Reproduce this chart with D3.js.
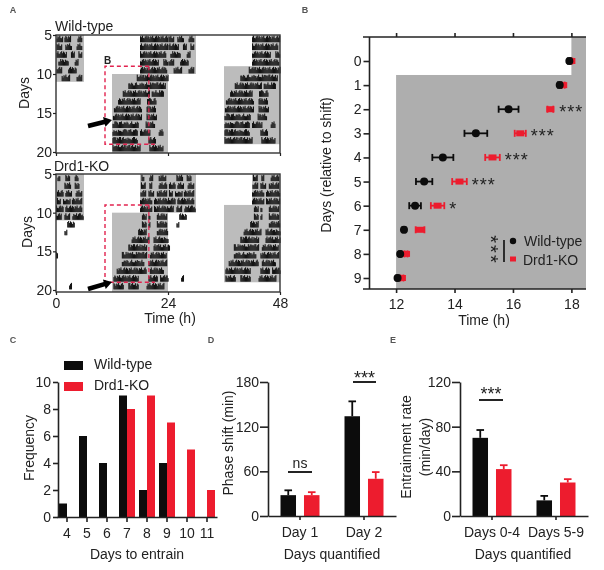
<!DOCTYPE html>
<html>
<head>
<meta charset="utf-8">
<script src="https://cdn.jsdelivr.net/npm/d3@7"></script>
<style>
html,body{margin:0;padding:0;background:#fff;}
svg{display:block;filter:blur(0.4px);}
text{font-family:"Liberation Sans",Arial,sans-serif;fill:#222;}
</style>
</head>
<body>
<svg id="chart" width="604" height="570"></svg>
<script>
// ---------- Panel A: activity bouts per day [start hour, end hour] ----------
const actoDays = [5,6,7,8,9,10,11,12,13,14,15,16,17,18,19];
const wtBouts = [
  [[0.1,1.5],[1.8,3.2],[4.6,5.5],[18,24]],
  [[0.1,1.2],[2,3.2],[4.4,5.5],[18,23.8]],
  [[0.1,2.3],[3.2,4],[4.8,5.5],[18,23.5]],
  [[0.5,2.6],[4,4.8],[18,22],[23,24]],
  [[0.1,1.2],[2.6,4.4],[18,23.7]],
  [[1.2,3],[4.4,5.5],[17.3,24]],
  [[15.5,23.5]],
  [[14.3,20],[20.5,23]],
  [[13.3,18],[19.5,21.5]],
  [[12.4,18.3],[19.4,21.2]],
  [[12.2,18.3],[19.4,21.5]],
  [[12.1,17.7],[19.2,21.2]],
  [[12.1,17.3],[18,20.2],[22,23]],
  [[12.1,17.3],[19.8,21.3]],
  [[12.1,18],[20,23]]
];
const koBouts = [
  [[0.3,0.8],[2,3],[4,4.8],[18.3,18.8],[20,20.6],[22,23.5]],
  [[1.8,3.2],[4,5],[18.2,19],[20,20.5],[22,23.7]],
  [[0.2,1.5],[2,3.4],[4.2,5.6],[18.1,19.2],[19.8,21],[21.6,23.8]],
  [[0.2,1],[1.5,3],[3.4,5.5],[18,20.5],[21,23.8]],
  [[0,1.5],[2,5.6],[18,20.5],[21,24]],
  [[0,1.2],[1.8,3],[3.5,5.8],[18.4,19.4],[19.8,20.1],[21.6,23.7]],
  [[2.4,4],[18.4,19.4],[19.8,20.1],[21.6,23.7]],
  [[1.8,2.3],[17.6,19.4],[21.6,24]],
  [[16.2,19.8],[20.9,24]],
  [[15.5,19.4],[20.9,24]],
  [[0,0.3],[14.1,19.4],[20.1,23.7]],
  [[14.1,18.9],[19.8,23.7]],
  [[13,19.4],[20.1,23]],
  [[12.3,17.6],[19.8,21.6],[22.3,24]],
  [[2.8,3.2],[12.3,14.4],[15.5,17.6],[19.4,23]]
];
const darkDays  = [[5,10],[5,9],[10,19]];
const darkHours = [[0,6],[18,24],[12,24]];
const spikeHeights = [0.6,0.85,1,0.7,0.95,0.8,0.55,0.9,0.75,1,0.65];
const actoTicksY = [5,10,15,20];
const actoTicksX = [0,24,48];
const boxHours = [10.5,19.9];
const boxDays = [9,19];

// ---------- Panel B ----------
const relDays = [0,1,2,3,4,5,6,7,8,9];
const wtTime = [17.93,17.6,15.85,14.73,13.6,12.96,12.65,12.27,12.14,12.05];
const wtErr  = [0.05,0.06,0.34,0.39,0.36,0.28,0.2,0.05,0.04,0.04];
const koTime = [18.0,17.72,17.28,16.25,15.3,14.17,13.42,12.82,12.34,12.2];
const koErr  = [0.03,0.05,0.1,0.19,0.25,0.25,0.23,0.15,0.05,0.05];
const sigB   = ["","","***","***","***","***","*","","",""];
const timeTicks = [12,14,16,18];

// ---------- Panel C ----------
const entrainDays = [4,5,6,7,8,9,10,11];
const wtFreq = [1,6,4,9,2,4,0,0];
const koFreq = [0,0,0,8,9,7,5,2];

// ---------- Panel D ----------
const shiftGroups = ["Day 1","Day 2"];
const wtShift = [28,134];  const wtShiftErr = [6.5,20];
const koShift = [28,50];   const koShiftErr = [4,9];

// ---------- Panel E ----------
const rateGroups = ["Days 0-4","Days 5-9"];
const wtRate = [70,14];  const wtRateErr = [7,4];
const koRate = [42,30];  const koRateErr = [3.5,3];

const BLACK="#0c0c0c", RED="#ed1c2e", GREY="#bcbcbc", GREYB="#aeaeae", INK="#222";
const svg = d3.select("#chart");

function styleAxis(g,w){
  g.selectAll(".domain,.tick line").attr("stroke",INK).attr("stroke-width",w||1.6);
  g.selectAll("text").attr("font-size",14).attr("font-family","'Liberation Sans',Arial,sans-serif").attr("fill",INK);
  return g;
}
function label(x,y,t,opt){
  opt=opt||{};
  const s=svg.append("text").text(t).attr("font-size",opt.size||14)
    .attr("text-anchor",opt.anchor||"middle");
  if(opt.rot) s.attr("transform",`translate(${x},${y}) rotate(${opt.rot})`);
  else s.attr("x",x).attr("y",y);
  if(opt.weight) s.attr("font-weight",opt.weight);
  if(opt.fill) s.style("fill",opt.fill);
  if(opt.spacing) s.attr("letter-spacing",opt.spacing);
  return s;
}

// ---------- actogram ----------
function actogram(bouts,top,y5,y20,bottom,showTimeLabels){
  const x=d3.scaleLinear().domain([0,48]).range([56,280]);
  const y=d3.scaleLinear().domain([5,20]).range([y5,y20]);
  const rowH=y(6)-y(5);
  const g=svg.append("g");
  darkHours.forEach((hrs,i)=>{
    const [d0,d1]=darkDays[i];
    g.append("rect").attr("x",x(hrs[0])).attr("width",x(hrs[1])-x(hrs[0]))
      .attr("y",y(d0)).attr("height",Math.max(y(d1+1),bottom*(d1===19?1:0))-y(d0)).attr("fill",GREY);
    const d0b=Math.max(d0-1,5);
    g.append("rect").attr("x",x(hrs[0]+24)).attr("width",x(hrs[1])-x(hrs[0]))
      .attr("y",y(d0b)).attr("height",y(d1)-y(d0b)).attr("fill",GREY);
  });
  const bin=0.2;
  const spikes=[];
  actoDays.forEach((d,i)=>{
    bouts[i].forEach(b=>{
      d3.range(b[0],b[1],bin).forEach(h=>{
        const k=Math.round(h/bin)+d;
        const f=spikeHeights[k%spikeHeights.length];
        spikes.push({h,row:d,f});
        if(d>5) spikes.push({h:h+24,row:d-1,f});
      });
    });
  });
  g.selectAll("rect.s").data(spikes).join("rect").attr("class","s")
    .attr("x",s=>x(s.h)).attr("width",x(bin)-x(0)+0.15)
    .attr("y",s=>y(s.row+1)-0.6-(rowH-1.2)*s.f).attr("height",s=>(rowH-1.2)*s.f)
    .attr("fill","#141414");
  // frame
  svg.append("rect").attr("x",x(0)).attr("y",top).attr("width",x(48)-x(0)).attr("height",bottom-top)
    .attr("fill","none").attr("stroke","#333").attr("stroke-width",1.4);
  // axes
  styleAxis(svg.append("g").attr("transform",`translate(${x(0)},0)`)
    .call(d3.axisLeft(y).tickValues(actoTicksY).tickSize(3).tickPadding(1).tickSizeOuter(0)),1.2)
    .call(a=>a.select(".domain").remove());
  const xAxis=d3.axisBottom(x).tickValues(actoTicksX).tickSize(3).tickPadding(3).tickSizeOuter(0);
  if(!showTimeLabels) xAxis.tickFormat("");
  styleAxis(svg.append("g").attr("transform",`translate(0,${bottom})`).call(xAxis),1.2)
    .call(a=>a.select(".domain").remove());
  // dashed box
  const bx0=x(boxHours[0]),bx1=x(boxHours[1]),by0=y(boxDays[0]),by1=y(boxDays[1]);
  svg.append("path").attr("d",d3.line()([[bx1,by0],[bx0,by0],[bx0,by1],[bx1+6,by1]]))
    .attr("fill","none").attr("stroke","#e2234f").attr("stroke-width",1.4).attr("stroke-dasharray","4,3");
  svg.append("path").attr("d",d3.line()([[bx1,by0],[bx1,by1]]))
    .attr("fill","none").attr("stroke","#e2234f").attr("stroke-width",1.2).attr("stroke-dasharray","4,3");
  return {x,y};
}
function arrow(x0,y0,x1,y1){
  svg.append("line").attr("x1",x0).attr("y1",y0).attr("x2",x1-5).attr("y2",y1+1.3)
    .attr("stroke","#000").attr("stroke-width",4.5);
  const a=Math.atan2(y1-y0,x1-x0);
  const p=[[x1,y1],[x1-8*Math.cos(a)+5*Math.sin(a),y1-8*Math.sin(a)-5*Math.cos(a)],
           [x1-8*Math.cos(a)-5*Math.sin(a),y1-8*Math.sin(a)+5*Math.cos(a)]];
  svg.append("polygon").attr("points",p.join(" ")).attr("fill","#000");
}
actogram(wtBouts,35,35,152,153,false);
actogram(koBouts,174,174,290,292,true);
arrow(88,126,112,120);
arrow(88,289,112,282);
label(55,31,"Wild-type",{anchor:"start"});
label(54,171,"Drd1-KO",{anchor:"start"});
label(104,64,"B",{anchor:"start",size:10,weight:"bold"});
label(29,93,"Days",{rot:-90});
label(32,232,"Days",{rot:-90});
label(170,323,"Time (h)");

// ---------- Panel B ----------
(function(){
  const x=d3.scaleLinear().domain([11.09,18.5]).range([369.5,586]);
  const y=d3.scaleLinear().domain([0,9]).range([61,278]);
  const yTop=37, yBot=289;
  svg.append("rect").attr("x",x(12)).attr("y",y(0.58)).attr("width",x(18.5)-x(12))
    .attr("height",yBot-y(0.58)).attr("fill",GREYB);
  svg.append("rect").attr("x",x(18)).attr("y",yTop).attr("width",x(18.5)-x(18))
    .attr("height",y(0.58)-yTop).attr("fill",GREYB);
  function series(vals,errs,color,isDot){
    const g=svg.append("g");
    relDays.forEach((d,i)=>{
      const cy=y(d),a=x(vals[i]-errs[i]),b=x(vals[i]+errs[i]);
      g.append("line").attr("x1",a).attr("x2",b).attr("y1",cy).attr("y2",cy).attr("stroke",color).attr("stroke-width",1.8);
      [a,b].forEach(c=>g.append("line").attr("x1",c).attr("x2",c).attr("y1",cy-3.5).attr("y2",cy+3.5).attr("stroke",color).attr("stroke-width",1.8));
      if(isDot) g.append("circle").attr("cx",x(vals[i])).attr("cy",cy).attr("r",4).attr("fill",color);
      else g.append("rect").attr("x",x(vals[i])-4).attr("y",cy-3).attr("width",8).attr("height",6).attr("fill",color);
    });
  }
  series(koTime,koErr,RED,false);
  series(wtTime,wtErr,BLACK,true);
  relDays.forEach((d,i)=>{
    if(!sigB[i]) return;
    label(x(koTime[i]+koErr[i])+(i===2?6:5),y(d)+9,sigB[i],{anchor:"start",size:18,spacing:1});
  });
  styleAxis(svg.append("g").attr("transform",`translate(${x(11.09)},0)`)
    .call(d3.axisLeft(y).tickValues(relDays).tickSize(6).tickPadding(2).tickSizeOuter(0)))
    .call(a=>a.select(".domain").attr("d",`M0,${yTop}V${yBot}`));
  styleAxis(svg.append("g").attr("transform",`translate(0,${yBot})`)
    .call(d3.axisBottom(x).tickValues(timeTicks).tickSize(4).tickPadding(6).tickSizeOuter(0)))
    .call(a=>a.select(".domain").attr("d",`M363,0H586`));
  const topAxis=svg.append("g").attr("transform",`translate(0,${yTop})`)
    .call(d3.axisTop(x).tickValues(timeTicks).tickSize(4).tickFormat("").tickSizeOuter(0));
  styleAxis(topAxis).call(a=>a.select(".domain").attr("d",`M363,0H586`));
  label(331,165,"Days (relative to shift)",{rot:-90});
  label(484,325,"Time (h)");
  // legend
  svg.append("line").attr("x1",504).attr("x2",504).attr("y1",240).attr("y2",262).attr("stroke",BLACK).attr("stroke-width",1.6);
  label(484,250,"***",{size:20,rot:90,spacing:2});
  svg.append("circle").attr("cx",513).attr("cy",241).attr("r",3.2).attr("fill",BLACK);
  svg.append("rect").attr("x",510).attr("y",256.5).attr("width",6).attr("height",5).attr("fill",RED);
  label(524,246,"Wild-type",{anchor:"start"});
  label(523,265,"Drd1-KO",{anchor:"start"});
})();

// ---------- Panel C ----------
(function(){
  const x=d3.scaleBand().domain(entrainDays).range([57,217]);
  const y=d3.scaleLinear().domain([0,10]).range([517,382]);
  entrainDays.forEach((d,i)=>{
    const c=x(d)+x.bandwidth()/2;
    svg.append("rect").attr("x",c-8).attr("width",8).attr("y",y(wtFreq[i])).attr("height",y(0)-y(wtFreq[i])).attr("fill",BLACK);
    svg.append("rect").attr("x",c).attr("width",8).attr("y",y(koFreq[i])).attr("height",y(0)-y(koFreq[i])).attr("fill",RED);
  });
  styleAxis(svg.append("g").attr("transform",`translate(58,0)`)
    .call(d3.axisLeft(y).tickValues([0,2,4,6,8,10]).tickSize(5).tickPadding(2).tickSizeOuter(0)));
  styleAxis(svg.append("g").attr("transform",`translate(0,517)`)
    .call(d3.axisBottom(x).tickSize(5).tickPadding(6).tickSizeOuter(0)));
  svg.append("rect").attr("x",64).attr("y",361).attr("width",19).attr("height",9).attr("fill",BLACK);
  svg.append("rect").attr("x",64).attr("y",382).attr("width",19).attr("height",9).attr("fill",RED);
  label(94,369,"Wild-type",{anchor:"start"});
  label(94,390,"Drd1-KO",{anchor:"start"});
  label(34,448,"Frequency",{rot:-90});
  label(137,559,"Days to entrain");
})();

// ---------- Panels D and E ----------
function groupedBars(groups,wt,wtE,ko,koE,x0,x1,yMax,ticks){
  const x=d3.scaleBand().domain(groups).range([x0,x1]);
  const inner=d3.scaleBand().domain(["wt","ko"]).range([-19.5,19.5]).paddingInner(0.34).paddingOuter(0);
  const y=d3.scaleLinear().domain([0,yMax]).range([516,382]);
  groups.forEach((g,i)=>{
    const c=x(g)+x.bandwidth()/2;
    [["wt",wt[i],wtE[i],BLACK],["ko",ko[i],koE[i],RED]].forEach(([k,v,e,col])=>{
      const bx=c+inner(k), w=inner.bandwidth(), m=bx+w/2;
      svg.append("rect").attr("x",bx).attr("width",w).attr("y",y(v)).attr("height",y(0)-y(v)).attr("fill",col);
      svg.append("line").attr("x1",m).attr("x2",m).attr("y1",y(v)).attr("y2",y(v+e)).attr("stroke",col).attr("stroke-width",1.8);
      svg.append("line").attr("x1",m-3.8).attr("x2",m+3.8).attr("y1",y(v+e)).attr("y2",y(v+e)).attr("stroke",col).attr("stroke-width",1.8);
    });
  });
  styleAxis(svg.append("g").attr("transform",`translate(${x0},0)`)
    .call(d3.axisLeft(y).tickValues(ticks).tickSize(8).tickPadding(1).tickSizeOuter(0)));
  styleAxis(svg.append("g").attr("transform",`translate(0,516)`)
    .call(d3.axisBottom(x).tickSize(4).tickPadding(7).tickSizeOuter(0)));
}
function bracket(x0,x1,y,t,ty,size){
  svg.append("line").attr("x1",x0).attr("x2",x1).attr("y1",y).attr("y2",y).attr("stroke",BLACK).attr("stroke-width",1.8);
  label((x0+x1)/2,ty,t,{size:size});
}
groupedBars(shiftGroups,wtShift,wtShiftErr,koShift,koShiftErr,268,396,180,[0,60,120,180]);
groupedBars(rateGroups,wtRate,wtRateErr,koRate,koRateErr,460,588,120,[0,40,80,120]);
bracket(288,312,472,"ns",468,14);
bracket(353,376,382,"***",384,18);
bracket(479,503,400,"***",400,18);
label(233,443,"Phase shift (min)",{rot:-90});
label(332,559,"Days quantified");
label(411,447,"Entrainment rate",{rot:-90});
label(430,447,"(min/day)",{rot:-90});
label(523,559,"Days quantified");

// panel letters
[["A",13,13],["B",305,13],["C",13,343],["D",211,343],["E",393,343]].forEach(([t,x,y])=>
  label(x,y,t,{size:9,weight:"bold",fill:"#555"}));
</script>
</body>
</html>
